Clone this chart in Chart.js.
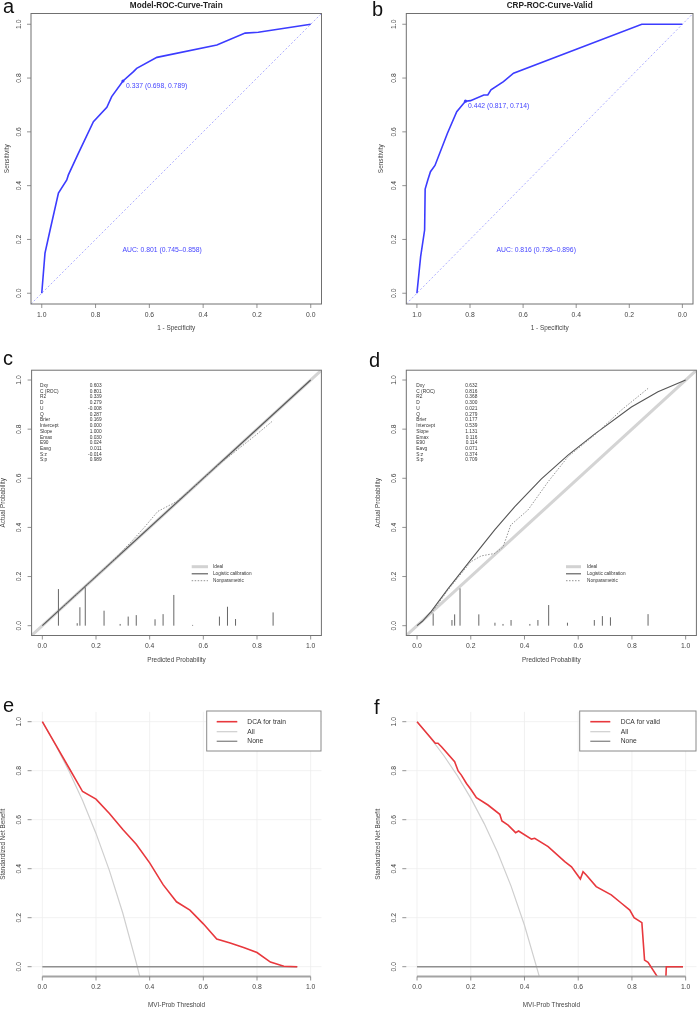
<!DOCTYPE html>
<html>
<head>
<meta charset="utf-8">
<title>ROC, calibration and DCA</title>
<script src="https://cdn.jsdelivr.net/npm/chart.js@4.4.1/dist/chart.umd.min.js"></script>
<style>
  html, body { margin: 0; padding: 0; background: #fff; }
  body { position: relative; width: 697px; height: 1009px; overflow: hidden; }
  canvas { position: absolute; }
</style>
</head>
<body>
<canvas id="pa"></canvas>
<canvas id="pb"></canvas>
<canvas id="pc"></canvas>
<canvas id="pd"></canvas>
<canvas id="pe"></canvas>
<canvas id="pf"></canvas>
<script>
const tickVals = [0, 0.2, 0.4, 0.6, 0.8, 1.0];
const tickText = ["0.0", "0.2", "0.4", "0.6", "0.8", "1.0"];

// ROC curves (specificity on reversed x, sensitivity on y)
const rocTrainSpec = [1.0, 0.988, 0.969, 0.938, 0.907, 0.901, 0.864, 0.808, 0.758, 0.740, 0.698, 0.659, 0.647, 0.572, 0.349, 0.244, 0.195, 0.0];
const rocTrainSens = [0.0, 0.149, 0.235, 0.372, 0.421, 0.440, 0.520, 0.638, 0.691, 0.731, 0.789, 0.824, 0.836, 0.877, 0.923, 0.967, 0.970, 1.0];
const rocTrainCut = [0.698, 0.789];
const rocValidSpec = [1.0, 0.986, 0.971, 0.969, 0.959, 0.949, 0.932, 0.885, 0.850, 0.829, 0.817, 0.798, 0.748, 0.733, 0.721, 0.674, 0.636, 0.153, 0.0];
const rocValidSens = [0.0, 0.136, 0.235, 0.387, 0.421, 0.452, 0.475, 0.595, 0.675, 0.700, 0.714, 0.716, 0.737, 0.737, 0.756, 0.787, 0.818, 1.0, 1.0];
const rocValidCut = [0.817, 0.714];

// calibration
const spikeX = [0.06, 0.13, 0.14, 0.16, 0.23, 0.29, 0.32, 0.35, 0.42, 0.45, 0.49, 0.56, 0.66, 0.69, 0.72, 0.86];
const spikeTrain = [0.149, 0.010, 0.075, 0.156, 0.061, 0.007, 0.037, 0.043, 0.026, 0.047, 0.125, 0.003, 0.037, 0.077, 0.027, 0.054];
const spikeValid = [0.050, 0.023, 0.046, 0.152, 0.046, 0.012, 0.007, 0.023, 0.007, 0.023, 0.084, 0.012, 0.023, 0.039, 0.034, 0.047];
const logitTrainX = [0, 1];
const logitTrainY = [0, 1];
const npTrainX = [0.06, 0.15, 0.25, 0.33, 0.38, 0.43, 0.50, 0.56, 0.65, 0.72, 0.80, 0.86];
const npTrainY = [0.06, 0.15, 0.25, 0.34, 0.40, 0.465, 0.505, 0.56, 0.65, 0.71, 0.78, 0.835];
const logitValidX = [0, 0.02, 0.053, 0.115, 0.2, 0.289, 0.364, 0.463, 0.562, 0.661, 0.798, 0.897, 1];
const logitValidY = [0, 0.018, 0.058, 0.150, 0.268, 0.39, 0.485, 0.598, 0.694, 0.780, 0.890, 0.952, 1];
const npValidX = [0.053, 0.115, 0.2, 0.239, 0.289, 0.32, 0.349, 0.413, 0.488, 0.562, 0.661, 0.761, 0.860];
const npValidY = [0.05, 0.145, 0.26, 0.284, 0.294, 0.32, 0.41, 0.471, 0.586, 0.688, 0.776, 0.878, 0.966];
const idealXY = [-0.04, 1.04];

const statNames = ["Dxy", "C (ROC)", "R2", "D", "U", "Q", "Brier", "Intercept", "Slope", "Emax", "E90", "Eavg", "S:z", "S:p"];
const statTrain = ["0.603", "0.801", "0.339", "0.279", "-0.008", "0.287", "0.169", "0.000", "1.000", "0.030", "0.024", "0.011", "-0.014", "0.989"];
const statValid = ["0.632", "0.816", "0.368", "0.300", "0.021", "0.279", "0.177", "0.539", "1.131", "0.116", "0.114", "0.071", "0.374", "0.709"];

// decision curves
const dcaTrainX = [0, 0.05, 0.1, 0.15, 0.2, 0.25, 0.3, 0.35, 0.4, 0.45, 0.5, 0.55, 0.6, 0.65, 0.7, 0.75, 0.8, 0.85, 0.9, 0.95];
const dcaTrainNB = [1.0, 0.905, 0.81, 0.715, 0.684, 0.625, 0.56, 0.50, 0.424, 0.335, 0.265, 0.231, 0.175, 0.113, 0.097, 0.078, 0.058, 0.019, 0.002, 0.0];
const dcaTrainAllX = [0, 0.05, 0.1, 0.15, 0.2, 0.25, 0.3, 0.35, 0.37];
const dcaTrainAll = [1.0, 0.904, 0.797, 0.678, 0.544, 0.392, 0.218, 0.017, -0.07];
const dcaTrainNoneX = [0, 0.95];
const dcaValidX = [0, 0.068, 0.078, 0.091, 0.14, 0.153, 0.165, 0.184, 0.202, 0.221, 0.264, 0.308, 0.316, 0.339, 0.367, 0.378, 0.426, 0.438, 0.488, 0.55, 0.575, 0.608, 0.618, 0.63, 0.667, 0.723, 0.761, 0.792, 0.808, 0.837, 0.847, 0.86, 0.897, 0.925, 0.928, 0.99];
const dcaValidNB = [1.0, 0.912, 0.912, 0.898, 0.837, 0.799, 0.782, 0.748, 0.721, 0.690, 0.660, 0.622, 0.595, 0.578, 0.547, 0.554, 0.521, 0.524, 0.490, 0.429, 0.408, 0.358, 0.388, 0.374, 0.327, 0.293, 0.259, 0.231, 0.200, 0.180, 0.027, 0.018, -0.045, -0.08, 0.0, 0.0];
const dcaValidAllX = [0, 0.05, 0.1, 0.15, 0.2, 0.25, 0.3, 0.35, 0.4, 0.45, 0.47];
const dcaValidAll = [1.0, 0.934, 0.861, 0.780, 0.688, 0.584, 0.466, 0.329, 0.169, -0.02, -0.10];
const dcaValidNoneX = [0, 0.99];

const FONT = '"Liberation Sans", Arial, Helvetica, sans-serif';
const pts = (xs, ys) => xs.map((v, i) => ({ x: v, y: ys[i] }));
const spikes = (xs, hs) => xs.flatMap((v, i) => [{ x: v, y: 0 }, { x: v, y: hs[i] }, { x: v, y: null }]);

function ln(d, color, width, dash) {
  return { data: d, borderColor: color, borderWidth: width, borderDash: dash || [], pointRadius: 0, fill: false, tension: 0, spanGaps: false };
}
function seg(ctx, x0, y0, x1, y1) {
  ctx.beginPath(); ctx.moveTo(x0, y0); ctx.lineTo(x1, y1); ctx.stroke();
}
function txt(ctx, s, x, y, size, o) {
  o = o || {};
  ctx.save();
  ctx.font = (o.bold ? "bold " : "") + size + "px " + FONT;
  ctx.fillStyle = o.color || "#444";
  ctx.textAlign = o.align || "center";
  ctx.textBaseline = o.base || "middle";
  ctx.translate(x, y);
  if (o.rot) ctx.rotate(o.rot);
  ctx.fillText(s, 0, 0);
  ctx.restore();
}

function rPlot(p, deco) {
  const X = v => v - p.left, Y = v => v - p.top;
  return {
    id: "rplot",
    beforeDatasetsDraw(chart) {
      if (!deco.grid) return;
      const { ctx, chartArea: a, scales: { x, y } } = chart;
      ctx.save();
      ctx.strokeStyle = "#ededed"; ctx.lineWidth = 0.8;
      tickVals.forEach(v => {
        const px = x.getPixelForValue(v), py = y.getPixelForValue(v);
        seg(ctx, px, a.top, px, a.bottom);
        seg(ctx, a.left, py, a.right, py);
      });
      ctx.restore();
    },
    afterDatasetsDraw(chart) {
      const { ctx, chartArea: a, scales: { x, y } } = chart;
      ctx.save();
      if (deco.boxed) {
        ctx.strokeStyle = "#707070"; ctx.lineWidth = 1;
        ctx.strokeRect(a.left, a.top, a.right - a.left, a.bottom - a.top);
      } else {
        ctx.strokeStyle = "#a3a3a3"; ctx.lineWidth = 2;
        seg(ctx, x.getPixelForValue(0), a.bottom, x.getPixelForValue(1), a.bottom);
      }
      ctx.strokeStyle = "#777"; ctx.lineWidth = 0.8;
      tickVals.forEach((v, i) => {
        const px = x.getPixelForValue(v), py = y.getPixelForValue(v);
        seg(ctx, px, a.bottom, px, a.bottom + 4);
        seg(ctx, a.left - 4, py, a.left, py);
        txt(ctx, tickText[i], px, a.bottom + 11, 6.8);
        txt(ctx, tickText[i], a.left - 12, py, 6.8, { rot: -Math.PI / 2 });
      });
      const cx = (a.left + a.right) / 2, cy = (a.top + a.bottom) / 2;
      txt(ctx, deco.xTitle, cx, a.bottom + deco.xTitleOff, 6.4);
      txt(ctx, deco.yTitle, a.left - deco.yTitleOff, cy, 6.4, { rot: -Math.PI / 2 });
      if (deco.title) txt(ctx, deco.title, cx, Y(5.8), 8.2, { bold: true, color: "#222" });
      txt(ctx, deco.letter, X(deco.letterAt[0]), Y(deco.letterAt[1]), 20, { align: "left", base: "alphabetic", color: "#111" });

      (deco.notes || []).forEach(n => {
        txt(ctx, n.text, x.getPixelForValue(n.x) + (n.dx || 0), y.getPixelForValue(n.y) + (n.dy || 0), 6.8,
          { align: "left", color: "#4545ff" });
      });

      if (deco.stats) {
        const s = deco.stats;
        statNames.forEach((nm, i) => {
          const yy = Y(s.y0 + i * 5.72);
          txt(ctx, nm, X(s.nameX), yy, 4.8, { align: "left", color: "#333" });
          txt(ctx, s.values[i], X(s.valX), yy, 4.8, { align: "right", color: "#333" });
        });
      }

      if (deco.calLegend) {
        const g = deco.calLegend;
        const styles = [["#d2d2d2", 3, []], ["#555", 1.1, []], ["#888", 0.9, [1.5, 1.5]]];
        ["Ideal", "Logistic calibration", "Nonparametric"].forEach((lab, i) => {
          const yy = Y(g.ys[i]);
          ctx.strokeStyle = styles[i][0]; ctx.lineWidth = styles[i][1]; ctx.setLineDash(styles[i][2]);
          seg(ctx, X(g.x0), yy, X(g.x1), yy);
          ctx.setLineDash([]);
          txt(ctx, lab, X(g.tx), yy, 4.7, { align: "left", color: "#333" });
        });
      }

      if (deco.dcaLegend) {
        const g = deco.dcaLegend;
        ctx.fillStyle = "#fff";
        ctx.fillRect(X(g.box[0]), Y(g.box[1]), g.box[2] - g.box[0], g.box[3] - g.box[1]);
        ctx.strokeStyle = "#8a8a8a"; ctx.lineWidth = 1;
        ctx.strokeRect(X(g.box[0]), Y(g.box[1]), g.box[2] - g.box[0], g.box[3] - g.box[1]);
        const styles = [["#e8383d", 1.6], ["#cfcfcf", 1.2], ["#8f8f8f", 1.4]];
        g.labels.forEach((lab, i) => {
          const yy = Y(g.ys[i]);
          ctx.strokeStyle = styles[i][0]; ctx.lineWidth = styles[i][1];
          seg(ctx, X(g.x0), yy, X(g.x1), yy);
          txt(ctx, lab, X(g.tx), yy, 6.7, { align: "left", color: "#333" });
        });
      }
      ctx.restore();
    }
  };
}

function panel(id, p, datasets, xReverse, deco) {
  const cv = document.getElementById(id);
  cv.style.left = p.left + "px";
  cv.style.top = p.top + "px";
  cv.width = p.w;
  cv.height = p.h;
  const pad = { left: p.box[0] - p.left, top: p.box[1] - p.top, right: p.left + p.w - p.box[2], bottom: p.top + p.h - p.box[3] };
  return new Chart(cv, {
    type: "line",
    data: { datasets: datasets },
    options: {
      responsive: false,
      animation: false,
      events: [],
      layout: { padding: pad },
      plugins: { legend: { display: false }, tooltip: { enabled: false } },
      scales: {
        x: { type: "linear", display: false, min: -0.04, max: 1.04, reverse: !!xReverse },
        y: { type: "linear", display: false, min: -0.04, max: 1.04 }
      }
    },
    plugins: [rPlot(p, deco)]
  });
}

const ROC_BLUE = "#3c3cff";
const diag = [{ x: 1.04, y: -0.04 }, { x: -0.04, y: 1.04 }];

// a
panel("pa", { left: 0, top: 0, w: 348, h: 340, box: [31, 13.5, 321.5, 304] }, [
  Object.assign(ln([{ x: rocTrainCut[0], y: rocTrainCut[1] }], ROC_BLUE, 0), { pointRadius: 1.6, pointBackgroundColor: ROC_BLUE, showLine: false }),
  ln(pts(rocTrainSpec, rocTrainSens), ROC_BLUE, 1.6),
  ln(diag, "#9a9aff", 0.8, [2, 2])
], true, {
  boxed: true, letter: "a", letterAt: [3, 13.3], title: "Model-ROC-Curve-Train",
  xTitle: "1 - Specificity", yTitle: "Sensitivity", xTitleOff: 24, yTitleOff: 24,
  notes: [
    { x: rocTrainCut[0], y: rocTrainCut[1], dx: 3, dy: 5, text: "0.337 (0.698, 0.789)" },
    { x: 0.70, y: 0.161, text: "AUC: 0.801 (0.745\u20130.858)" }
  ]
});

// b
panel("pb", { left: 348, top: 0, w: 349, h: 340, box: [406.3, 13.5, 696.4, 304] }, [
  Object.assign(ln([{ x: rocValidCut[0], y: rocValidCut[1] }], ROC_BLUE, 0), { pointRadius: 1.6, pointBackgroundColor: ROC_BLUE, showLine: false }),
  ln(pts(rocValidSpec, rocValidSens), ROC_BLUE, 1.6),
  ln(diag, "#9a9aff", 0.8, [2, 2])
], true, {
  boxed: true, letter: "b", letterAt: [372, 15.5], title: "CRP-ROC-Curve-Valid",
  xTitle: "1 - Specificity", yTitle: "Sensitivity", xTitleOff: 24, yTitleOff: 25,
  notes: [
    { x: rocValidCut[0], y: rocValidCut[1], dx: 2.5, dy: 5.4, text: "0.442 (0.817, 0.714)" },
    { x: 0.70, y: 0.161, text: "AUC: 0.816 (0.736\u20130.896)" }
  ]
});

// c
panel("pc", { left: 0, top: 340, w: 348, h: 325, box: [31.6, 370.2, 321.4, 635.5] }, [
  ln(pts(npTrainX, npTrainY), "#8a8a8a", 0.9, [1.5, 1.5]),
  ln(pts(logitTrainX, logitTrainY), "#555", 1.1),
  ln(spikes(spikeX, spikeTrain), "#666", 1),
  ln(pts(idealXY, idealXY), "#d4d4d4", 3)
], false, {
  boxed: true, letter: "c", letterAt: [3, 365],
  xTitle: "Predicted Probability", yTitle: "Actual Probability", xTitleOff: 24.5, yTitleOff: 28,
  stats: { nameX: 40, valX: 101.7, y0: 385.7, values: statTrain },
  calLegend: { x0: 191.7, x1: 208, tx: 213, ys: [566.7, 573.8, 580.7] }
});

// d
panel("pd", { left: 348, top: 340, w: 349, h: 325, box: [406.3, 370.2, 696.4, 635.5] }, [
  ln(pts(npValidX, npValidY), "#8a8a8a", 0.9, [1.5, 1.5]),
  ln(pts(logitValidX, logitValidY), "#555", 1.1),
  ln(spikes(spikeX, spikeValid), "#666", 1),
  ln(pts(idealXY, idealXY), "#d4d4d4", 3)
], false, {
  boxed: true, letter: "d", letterAt: [369, 367],
  xTitle: "Predicted Probability", yTitle: "Actual Probability", xTitleOff: 24.5, yTitleOff: 27.6,
  stats: { nameX: 416.3, valX: 477.3, y0: 385.7, values: statValid },
  calLegend: { x0: 566, x1: 581, tx: 587, ys: [566.7, 573.8, 580.7] }
});

// e
panel("pe", { left: 0, top: 665, w: 348, h: 344, box: [31.6, 711.9, 321.4, 976.5] }, [
  ln(pts(dcaTrainX, dcaTrainNB), "#e8383d", 1.6),
  ln(pts(dcaTrainNoneX, [0, 0]), "#8f8f8f", 1.4),
  ln(pts(dcaTrainAllX, dcaTrainAll), "#cfcfcf", 1.2)
], false, {
  boxed: false, grid: true, letter: "e", letterAt: [3, 711.5],
  xTitle: "MVI-Prob Threshold", yTitle: "Standardized Net Benefit", xTitleOff: 28.5, yTitleOff: 28.3,
  dcaLegend: { box: [206.7, 711, 321, 751], x0: 216.7, x1: 237.3, tx: 247.3, ys: [721.7, 731.7, 741.3], labels: ["DCA for train", "All", "None"] }
});

// f
panel("pf", { left: 348, top: 665, w: 349, h: 344, box: [406.3, 711.9, 696.4, 976.5] }, [
  ln(pts(dcaValidX, dcaValidNB), "#e8383d", 1.6),
  ln(pts(dcaValidNoneX, [0, 0]), "#8f8f8f", 1.4),
  ln(pts(dcaValidAllX, dcaValidAll), "#cfcfcf", 1.2)
], false, {
  boxed: false, grid: true, letter: "f", letterAt: [374, 714],
  xTitle: "MVI-Prob Threshold", yTitle: "Standardized Net Benefit", xTitleOff: 28.5, yTitleOff: 27.6,
  dcaLegend: { box: [579.7, 711, 696, 751], x0: 590.3, x1: 610.3, tx: 620.7, ys: [721.7, 731.7, 741.3], labels: ["DCA for valid", "All", "None"] }
});
</script>
</body>
</html>
